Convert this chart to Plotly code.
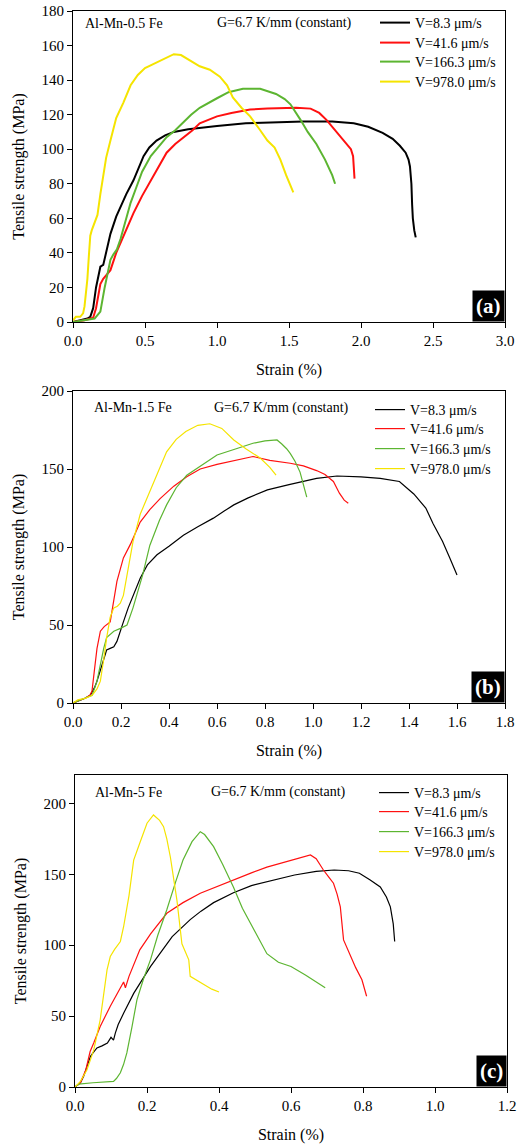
import plotly.graph_objects as go

# ---------------- data ----------------
series_names = ["V=8.3 μm/s", "V=41.6 μm/s", "V=166.3 μm/s", "V=978.0 μm/s"]
series_colors = ["#000000", "#ff1010", "#5cb531", "#f5e400"]

# Panel (a) Al-Mn-0.5 Fe
a_black_x = [0.0, 0.05, 0.10, 0.12, 0.14, 0.16, 0.18, 0.19, 0.21, 0.23, 0.26, 0.30, 0.33, 0.37, 0.42, 0.46, 0.49, 0.53, 0.58, 0.64, 0.70, 0.80, 0.90, 1.00, 1.20, 1.40, 1.60, 1.80, 1.95, 2.05, 2.15, 2.22, 2.27, 2.31, 2.33, 2.34, 2.35, 2.355, 2.36, 2.37, 2.38]
a_black_y = [0.0, 1.0, 2.0, 3.0, 8.0, 20.0, 28.0, 32.0, 33.0, 40.0, 51.0, 61.0, 67.0, 74.0, 82.0, 90.0, 96.0, 101.0, 105.0, 108.0, 110.0, 111.5, 112.5, 113.5, 115.0, 115.5, 116.0, 116.0, 115.0, 113.0, 109.5, 106.0, 102.0, 98.0, 94.0, 90.0, 80.0, 68.0, 60.0, 53.0, 49.0]
a_red_x = [0.0, 0.08, 0.14, 0.16, 0.19, 0.21, 0.23, 0.26, 0.30, 0.33, 0.37, 0.42, 0.48, 0.54, 0.60, 0.65, 0.71, 0.77, 0.83, 0.88, 0.94, 1.00, 1.10, 1.23, 1.35, 1.46, 1.55, 1.65, 1.71, 1.76, 1.81, 1.86, 1.90, 1.93, 1.945, 1.95, 1.955]
a_red_y = [0.0, 1.0, 2.5, 8.0, 22.0, 25.0, 27.0, 30.0, 40.0, 46.0, 54.0, 63.0, 73.0, 82.0, 91.0, 98.0, 103.0, 107.0, 111.0, 115.0, 117.0, 119.0, 121.0, 123.0, 123.5, 124.0, 124.0, 123.5, 121.0, 117.0, 112.0, 107.0, 103.0, 100.0, 96.0, 88.0, 83.0]
a_green_x = [0.0, 0.08, 0.15, 0.17, 0.19, 0.22, 0.26, 0.28, 0.305, 0.33, 0.37, 0.40, 0.44, 0.48, 0.54, 0.60, 0.65, 0.71, 0.77, 0.82, 0.88, 0.94, 1.00, 1.08, 1.18, 1.30, 1.36, 1.41, 1.47, 1.51, 1.58, 1.63, 1.69, 1.75, 1.80, 1.82]
a_green_y = [0.0, 1.0, 2.0, 4.0, 6.0, 20.0, 36.0, 39.0, 42.0, 48.0, 60.0, 69.0, 78.0, 87.0, 96.0, 102.0, 107.0, 111.0, 116.0, 120.0, 124.0, 127.0, 129.5, 133.0, 135.0, 135.0, 133.5, 132.0, 129.0, 126.0, 117.0, 110.0, 103.0, 94.0, 85.0, 80.0]
a_yellow_x = [0.0, 0.02, 0.05, 0.07, 0.08, 0.09, 0.10, 0.11, 0.12, 0.13, 0.15, 0.17, 0.19, 0.21, 0.23, 0.26, 0.30, 0.35, 0.40, 0.45, 0.50, 0.55, 0.60, 0.65, 0.70, 0.75, 0.80, 0.88, 0.95, 1.02, 1.07, 1.11, 1.17, 1.23, 1.30, 1.35, 1.40, 1.44, 1.48, 1.51, 1.53]
a_yellow_y = [1.0, 3.0, 3.0, 5.0, 9.0, 16.0, 25.0, 38.0, 50.0, 53.0, 57.0, 62.0, 74.0, 86.0, 95.0, 105.0, 118.0, 127.0, 137.0, 143.0, 147.0, 149.0, 151.0, 153.0, 155.0, 154.5, 152.0, 148.0, 146.0, 142.0, 137.0, 130.0, 124.0, 119.0, 111.0, 105.0, 101.0, 94.0, 85.0, 79.0, 75.0]

# Panel (b) Al-Mn-1.5 Fe
b_black_x = [0.0, 0.03, 0.05, 0.072, 0.09, 0.10, 0.115, 0.128, 0.14, 0.155, 0.17, 0.183, 0.20, 0.21, 0.23, 0.25, 0.28, 0.31, 0.35, 0.40, 0.46, 0.52, 0.585, 0.63, 0.67, 0.73, 0.81, 0.90, 1.015, 1.10, 1.20, 1.28, 1.36, 1.42, 1.47, 1.50, 1.54, 1.57, 1.60]
b_black_y = [0.0, 2.0, 3.0, 5.0, 10.0, 14.0, 22.0, 29.0, 34.0, 35.0, 36.0, 39.5, 48.0, 52.0, 61.0, 69.0, 80.0, 88.5, 95.0, 100.5, 107.5, 113.0, 118.5, 123.0, 127.0, 131.5, 136.6, 140.0, 144.0, 145.5, 145.0, 144.0, 142.0, 134.0, 125.0, 115.0, 103.5, 93.0, 82.0]
b_red_x = [0.0, 0.03, 0.05, 0.07, 0.079, 0.09, 0.10, 0.114, 0.13, 0.155, 0.17, 0.183, 0.21, 0.24, 0.28, 0.32, 0.363, 0.42, 0.474, 0.53, 0.60, 0.68, 0.75, 0.82, 0.905, 0.96, 1.015, 1.05, 1.085, 1.11, 1.13, 1.147]
b_red_y = [0.0, 2.0, 3.0, 5.0, 7.5, 22.0, 35.0, 46.0, 49.0, 52.0, 65.0, 78.0, 93.0, 102.0, 116.0, 124.0, 131.0, 139.0, 145.0, 150.0, 153.0, 155.5, 158.0, 155.5, 153.7, 152.0, 149.0, 146.5, 142.0, 134.5, 130.0, 128.0]
b_green_x = [0.0, 0.03, 0.05, 0.08, 0.10, 0.115, 0.128, 0.14, 0.17, 0.20, 0.225, 0.25, 0.29, 0.32, 0.36, 0.39, 0.43, 0.474, 0.53, 0.60, 0.68, 0.75, 0.80, 0.85, 0.87, 0.89, 0.905, 0.925, 0.946, 0.96, 0.974]
b_green_y = [0.0, 2.0, 3.0, 5.0, 14.0, 26.0, 35.0, 42.0, 46.0, 48.0, 50.0, 61.0, 82.0, 101.0, 117.0, 127.0, 138.0, 146.0, 152.0, 159.0, 163.0, 166.5, 168.0, 168.6, 166.0, 163.0, 160.0, 155.0, 148.0, 139.0, 132.0]
b_yellow_x = [0.0, 0.02, 0.05, 0.08, 0.10, 0.114, 0.13, 0.14, 0.155, 0.17, 0.185, 0.197, 0.21, 0.23, 0.25, 0.28, 0.32, 0.36, 0.39, 0.43, 0.47, 0.52, 0.57, 0.62, 0.67, 0.72, 0.78, 0.82, 0.846]
b_yellow_y = [0.0, 2.0, 3.0, 5.0, 9.0, 14.0, 30.0, 41.6, 55.0, 61.0, 62.0, 64.0, 69.0, 87.0, 103.5, 121.0, 135.5, 150.0, 161.0, 169.0, 174.0, 178.0, 179.0, 176.0, 168.6, 163.0, 157.0, 151.0, 146.0]

# Panel (c) Al-Mn-5 Fe
c_black_x = [0.0, 0.015, 0.024, 0.035, 0.043, 0.05, 0.061, 0.075, 0.09, 0.10, 0.107, 0.112, 0.12, 0.135, 0.163, 0.21, 0.27, 0.32, 0.35, 0.385, 0.44, 0.49, 0.55, 0.61, 0.67, 0.72, 0.76, 0.79, 0.82, 0.848, 0.865, 0.876, 0.884, 0.888]
c_black_y = [0.0, 3.0, 7.5, 15.0, 21.6, 24.0, 27.5, 29.0, 31.0, 35.0, 33.0, 38.0, 44.0, 52.0, 66.0, 85.0, 106.0, 118.0, 124.0, 130.0, 137.0, 142.0, 146.0, 149.5, 152.0, 153.0, 152.5, 150.7, 146.0, 141.0, 134.0, 127.0, 115.0, 102.6]
c_red_x = [0.0, 0.015, 0.03, 0.042, 0.052, 0.07, 0.098, 0.115, 0.13, 0.135, 0.14, 0.15, 0.18, 0.21, 0.255, 0.30, 0.348, 0.40, 0.44, 0.49, 0.533, 0.58, 0.626, 0.654, 0.67, 0.69, 0.705, 0.718, 0.728, 0.737, 0.746, 0.765, 0.78, 0.797, 0.805, 0.81]
c_red_y = [0.0, 3.0, 12.0, 25.0, 31.0, 42.7, 57.0, 65.0, 72.0, 74.0, 70.0, 78.0, 96.7, 108.0, 122.5, 130.0, 136.6, 142.0, 146.0, 151.0, 155.0, 158.5, 162.0, 163.6, 161.0, 153.0, 148.0, 143.7, 136.0, 127.0, 103.7, 92.0, 84.0, 75.6, 68.0, 64.0]
c_green_x = [0.0, 0.01, 0.05, 0.09, 0.107, 0.115, 0.126, 0.135, 0.144, 0.158, 0.172, 0.19, 0.21, 0.23, 0.255, 0.28, 0.30, 0.325, 0.348, 0.36, 0.385, 0.41, 0.44, 0.465, 0.487, 0.51, 0.533, 0.565, 0.60, 0.64, 0.69, 0.695]
c_green_y = [0.0, 2.0, 3.0, 4.0, 4.0, 6.0, 10.0, 16.0, 24.0, 42.0, 61.5, 76.0, 90.0, 107.0, 125.0, 145.0, 160.0, 173.0, 180.0, 178.0, 169.5, 157.0, 141.0, 126.0, 115.5, 104.0, 94.0, 88.0, 85.0, 79.0, 71.0, 70.0]
c_yellow_x = [0.0, 0.015, 0.033, 0.052, 0.07, 0.08, 0.089, 0.098, 0.11, 0.126, 0.135, 0.15, 0.163, 0.18, 0.20, 0.218, 0.235, 0.246, 0.255, 0.265, 0.283, 0.297, 0.306, 0.316, 0.32, 0.34, 0.357, 0.38, 0.40]
c_yellow_y = [0.0, 4.0, 12.0, 26.0, 47.4, 68.0, 82.6, 92.0, 97.0, 102.6, 113.0, 135.0, 160.0, 172.0, 186.0, 191.8, 188.0, 183.6, 175.0, 162.0, 132.0, 101.0, 95.0, 89.7, 78.0, 75.0, 73.0, 69.0, 67.0]

panel_x = [
    [a_black_x, a_red_x, a_green_x, a_yellow_x],
    [b_black_x, b_red_x, b_green_x, b_yellow_x],
    [c_black_x, c_red_x, c_green_x, c_yellow_x],
]
panel_y = [
    [a_black_y, a_red_y, a_green_y, a_yellow_y],
    [b_black_y, b_red_y, b_green_y, b_yellow_y],
    [c_black_y, c_red_y, c_green_y, c_yellow_y],
]
alloy_labels = ["Al-Mn-0.5 Fe", "Al-Mn-1.5 Fe", "Al-Mn-5 Fe"]
gradient_label = "G=6.7 K/mm (constant)"
panel_tags = ["(a)", "(b)", "(c)"]
x_ranges = [[0, 3.0], [0, 1.8], [0, 1.2]]
x_dticks = [0.5, 0.2, 0.2]
y_ranges = [[0, 180], [0, 200], [0, 220]]
y_dticks = [20, 50, 50]

# ---------------- layout ----------------
W, H = 523, 1146
FONT = "Liberation Serif"

# plot boxes in pixels: (left, right, top, bottom)
boxes = [(73, 505, 11, 322), (73, 505, 391, 703), (75, 507, 775, 1087)]
legend_line_start = [378, 373, 377]
legend_rows = [[23, 43, 62, 82], [410, 429, 449, 469], [793, 812, 832, 852]]
line_widths = [2.0, 1.2, 1.2]
label_pos = [(0.023, 0.961), (0.044, 0.946), (0.042, 0.945)]
grad_x = [0.329, 0.322, 0.31]

fig = go.Figure()
layout = dict(
    width=W, height=H, margin=dict(l=0, r=0, t=0, b=0),
    template="none", paper_bgcolor="white", plot_bgcolor="white",
    font=dict(family=FONT, size=15, color="black"),
    showlegend=True,
)
annotations = []
legend_idx = 0
for p in range(3):
    suffix = "" if p == 0 else str(p + 1)
    for s in range(4):
        legend_idx += 1
        legend_name = "legend" if legend_idx == 1 else "legend" + str(legend_idx)
        fig.add_trace(go.Scatter(
            x=panel_x[p][s], y=panel_y[p][s], mode="lines",
            name=series_names[s],
            line=dict(color=series_colors[s], width=line_widths[p]),
            xaxis="x" + suffix, yaxis="y" + suffix,
            legend=legend_name,
        ))
        layout[legend_name] = dict(
            x=(legend_line_start[p] - 3) / W, y=1 - legend_rows[p][s] / H,
            xanchor="left", yanchor="middle",
            bgcolor="rgba(0,0,0,0)", borderwidth=0,
            font=dict(family=FONT, size=14, color="black"),
        )

for p in range(3):
    l, r, t, b = boxes[p]
    suffix = "" if p == 0 else str(p + 1)
    xd = [l / W, r / W]
    yd = [1 - b / H, 1 - t / H]
    common = dict(showline=True, linecolor="black", linewidth=1, mirror=True,
                  ticks="outside", ticklen=5, tickcolor="black", tickwidth=1,
                  showgrid=False, zeroline=False,
                  tickfont=dict(family=FONT, size=15, color="black"))
    layout["xaxis" + suffix] = dict(
        domain=xd, range=x_ranges[p], dtick=x_dticks[p], tick0=0, tickformat=".1f",
        anchor="y" + suffix,
        title=dict(text="Strain (%)", font=dict(family=FONT, size=16), standoff=15),
        **common)
    layout["yaxis" + suffix] = dict(
        domain=yd, range=y_ranges[p], dtick=y_dticks[p], tick0=0,
        anchor="x" + suffix,
        title=dict(text="Tensile strength (MPa)", font=dict(family=FONT, size=16), standoff=12),
        **common)
    annotations.append(dict(
        text=alloy_labels[p], xref="x" + suffix + " domain", yref="y" + suffix + " domain",
        x=label_pos[p][0], y=label_pos[p][1], xanchor="left", yanchor="middle",
        showarrow=False, font=dict(family=FONT, size=14, color="black")))
    annotations.append(dict(
        text=gradient_label, xref="x" + suffix + " domain", yref="y" + suffix + " domain",
        x=grad_x[p], y=label_pos[p][1], xanchor="left", yanchor="middle",
        showarrow=False, font=dict(family=FONT, size=14, color="black")))
    annotations.append(dict(
        text="<b>" + panel_tags[p] + "</b>", xref="x" + suffix + " domain", yref="y" + suffix + " domain",
        x=1, y=0, xanchor="right", yanchor="bottom", showarrow=False,
        bgcolor="black", borderpad=3,
        font=dict(family=FONT, size=21, color="white")))
layout["annotations"] = annotations
fig.update_layout(**layout)

fig.write_html(
    "out.html",
    config={"displayModeBar": False},
    post_script="document.body.style.margin='0';document.body.style.overflow='hidden';",
)
